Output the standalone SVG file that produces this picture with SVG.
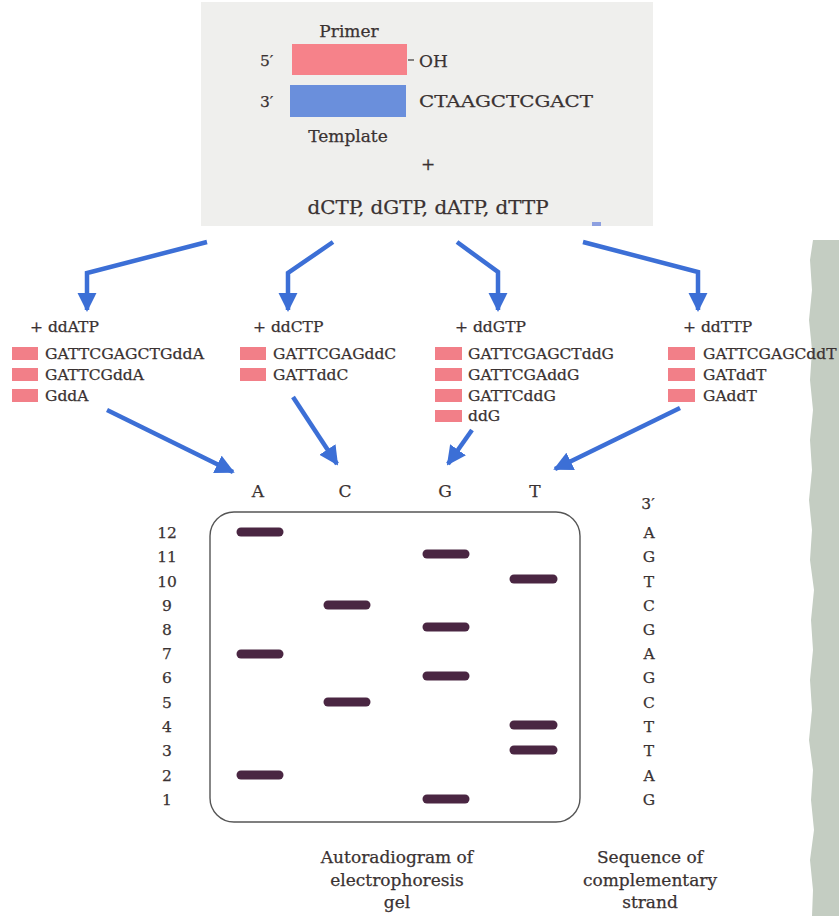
<svg xmlns="http://www.w3.org/2000/svg" width="839" height="916" viewBox="0 0 839 916">
  <style>
    .t { font-family: "DejaVu Serif", "Liberation Serif", serif; fill: #3a3232; stroke: #3a3232; stroke-width: 0.25; }
    .big { font-size: 17px; }
    .mid { font-size: 15.5px; }
    .mc { text-anchor: middle; }
    .frag { fill: #f27f88; }
    .band { stroke: #4a2642; stroke-width: 9; stroke-linecap: round; }
    .arrow { fill: none; stroke: #3c6fd6; stroke-width: 4.5; stroke-linejoin: miter; marker-end: url(#head); }
  </style>
  <defs>
    <marker id="head" viewBox="0 0 10 10" refX="9" refY="5" markerWidth="4.3" markerHeight="4.5" orient="auto" markerUnits="strokeWidth">
      <path d="M0,0 L10,5 L0,10 Z" fill="#3c6fd6"/>
    </marker>
  </defs>

  <rect width="839" height="916" fill="#ffffff"/>

  <!-- paper edge on the right -->
  <path d="M813,240 L839,240 L839,916 L812,916 L813,890 L810,860 L814,830 L811,800 L813,770 L809,740 L812,710 L810,680 L813,650 L811,620 L814,590 L810,560 L812,530 L809,500 L812,470 L810,440 L813,410 L810,380 L812,350 L809,320 L812,290 L810,260 Z" fill="#c4cdc2"/>

  <!-- reaction mix -->
  <g id="mix">
    <rect x="201" y="2" width="452" height="224" fill="#efefed"/>
    <text class="t big mc" x="349" y="37">Primer</text>
    <text class="t mid" x="260" y="66">5′</text>
    <rect x="292" y="44" width="115" height="31" fill="#f6828a"/>
    <line x1="408" y1="60" x2="414" y2="60" stroke="#3a3434" stroke-width="1.2"/>
    <text class="t big" x="419" y="67">OH</text>
    <text class="t mid" x="260" y="107">3′</text>
    <rect x="290" y="85" width="116" height="32" fill="#6a8fdc"/>
    <text class="t big" x="419" y="107" textLength="174" lengthAdjust="spacingAndGlyphs">CTAAGCTCGACT</text>
    <text class="t big mc" x="348" y="142">Template</text>
    <text class="t big mc" x="428" y="170">+</text>
    <text class="t mc" x="428" y="214" font-size="19" textLength="241" lengthAdjust="spacingAndGlyphs">dCTP, dGTP, dATP, dTTP</text>
    <rect x="592" y="222" width="9" height="4" fill="#8da0e0"/>
  </g>

  <!-- ddATP reaction -->
  <g id="rxn-a">
    <text class="t mid" x="30" y="332">+ ddATP</text>
    <rect class="frag" x="12" y="347" width="26" height="13"/>
    <rect class="frag" x="12" y="368" width="26" height="13"/>
    <rect class="frag" x="12" y="389" width="26" height="13"/>
    <text class="t mid" x="45" y="359" textLength="159" lengthAdjust="spacingAndGlyphs">GATTCGAGCTGddA</text>
    <text class="t mid" x="45" y="380">GATTCGddA</text>
    <text class="t mid" x="45" y="401">GddA</text>
  </g>

  <!-- ddCTP reaction -->
  <g id="rxn-c">
    <text class="t mid" x="253" y="332">+ ddCTP</text>
    <rect class="frag" x="240" y="347" width="26" height="13"/>
    <rect class="frag" x="240" y="368" width="26" height="13"/>
    <text class="t mid" x="273" y="359">GATTCGAGddC</text>
    <text class="t mid" x="273" y="380">GATTddC</text>
  </g>

  <!-- ddGTP reaction -->
  <g id="rxn-g">
    <text class="t mid" x="455" y="332">+ ddGTP</text>
    <rect class="frag" x="435" y="347" width="27" height="13"/>
    <rect class="frag" x="435" y="368" width="27" height="13"/>
    <rect class="frag" x="435" y="389" width="27" height="13"/>
    <rect class="frag" x="435" y="410" width="27" height="12"/>
    <text class="t mid" x="468" y="359">GATTCGAGCTddG</text>
    <text class="t mid" x="468" y="380">GATTCGAddG</text>
    <text class="t mid" x="468" y="401">GATTCddG</text>
    <text class="t mid" x="468" y="421">ddG</text>
  </g>

  <!-- ddTTP reaction -->
  <g id="rxn-t">
    <text class="t mid" x="683" y="332">+ ddTTP</text>
    <rect class="frag" x="668" y="347" width="27" height="13"/>
    <rect class="frag" x="668" y="368" width="27" height="13"/>
    <rect class="frag" x="668" y="389" width="27" height="13"/>
    <text class="t mid" x="703" y="359">GATTCGAGCddT</text>
    <text class="t mid" x="703" y="380">GATddT</text>
    <text class="t mid" x="703" y="401">GAddT</text>
  </g>

  <!-- connectors -->
  <g id="connectors">
    <path class="arrow" d="M207,242 L87,273 L87,310"/>
    <path class="arrow" d="M333,242 L288,273 L288,310"/>
    <path class="arrow" d="M457,242 L498,272 L498,310"/>
    <path class="arrow" d="M583,242 L698,272 L698,310"/>
    <path class="arrow" d="M107,410 L233,472"/>
    <path class="arrow" d="M293,397 L337,464"/>
    <path class="arrow" d="M472,430 L448,464"/>
    <path class="arrow" d="M680,408 L555,469"/>
  </g>

  <!-- autoradiogram -->
  <g id="gel">
    <text class="t big mc" x="258" y="497">A</text>
    <text class="t big mc" x="345" y="497">C</text>
    <text class="t big mc" x="445" y="497">G</text>
    <text class="t big mc" x="535" y="497">T</text>
    <rect x="210" y="512" width="370" height="310" rx="24" ry="24" fill="none" stroke="#555" stroke-width="1.4"/>
    <g class="t mid mc">
      <text x="167" y="538">12</text>
      <text x="167" y="562">11</text>
      <text x="167" y="587">10</text>
      <text x="167" y="611">9</text>
      <text x="167" y="635">8</text>
      <text x="167" y="659">7</text>
      <text x="167" y="683">6</text>
      <text x="167" y="708">5</text>
      <text x="167" y="732">4</text>
      <text x="167" y="756">3</text>
      <text x="167" y="781">2</text>
      <text x="167" y="805">1</text>
    </g>
    <!-- lane A -->
    <line class="band" x1="241" y1="532" x2="279" y2="532"/>
    <line class="band" x1="241" y1="654" x2="279" y2="654"/>
    <line class="band" x1="241" y1="775" x2="279" y2="775"/>
    <!-- lane C -->
    <line class="band" x1="328" y1="605" x2="366" y2="605"/>
    <line class="band" x1="328" y1="702" x2="366" y2="702"/>
    <!-- lane G -->
    <line class="band" x1="427" y1="554" x2="465" y2="554"/>
    <line class="band" x1="427" y1="627" x2="465" y2="627"/>
    <line class="band" x1="427" y1="676" x2="465" y2="676"/>
    <line class="band" x1="427" y1="799" x2="465" y2="799"/>
    <!-- lane T -->
    <line class="band" x1="514" y1="579" x2="553" y2="579"/>
    <line class="band" x1="514" y1="725" x2="553" y2="725"/>
    <line class="band" x1="514" y1="750" x2="553" y2="750"/>
    <text class="t big mc" x="397" y="863">Autoradiogram of</text>
    <text class="t big mc" x="397" y="886">electrophoresis</text>
    <text class="t big mc" x="397" y="908">gel</text>
  </g>

  <!-- complementary sequence -->
  <g id="sequence">
    <g class="t mid mc">
      <text x="648" y="509">3′</text>
      <text x="649" y="538">A</text>
      <text x="649" y="562">G</text>
      <text x="649" y="587">T</text>
      <text x="649" y="611">C</text>
      <text x="649" y="635">G</text>
      <text x="649" y="659">A</text>
      <text x="649" y="683">G</text>
      <text x="649" y="708">C</text>
      <text x="649" y="732">T</text>
      <text x="649" y="756">T</text>
      <text x="649" y="781">A</text>
      <text x="649" y="805">G</text>
    </g>
    <text class="t big mc" x="650" y="863">Sequence of</text>
    <text class="t big mc" x="650" y="886">complementary</text>
    <text class="t big mc" x="650" y="908">strand</text>
  </g>
</svg>
